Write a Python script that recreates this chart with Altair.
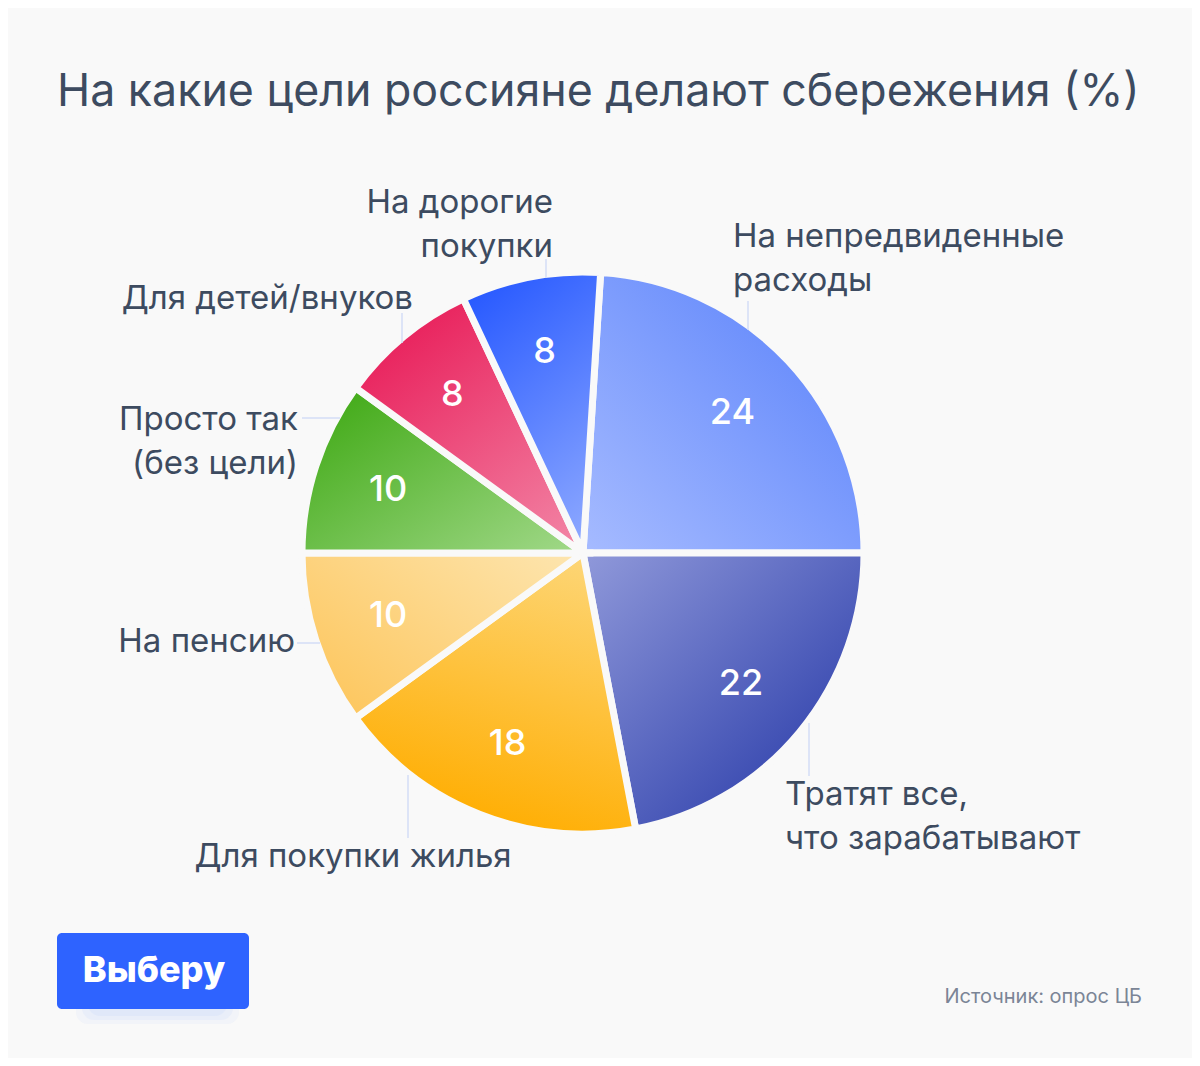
import math
import altair as alt
import pandas as pd

# ---------------- data ----------------
categories = [
    "На непредвиденные расходы",
    "Тратят все, что зарабатывают",
    "Для покупки жилья",
    "На пенсию",
    "Просто так (без цели)",
    "Для детей/внуков",
    "На дорогие покупки",
]
values = [24, 22, 18, 10, 10, 8, 8]
label_lines = [
    "На непредвиденные\nрасходы",
    "Тратят все,\nчто зарабатывают",
    "Для покупки жилья",
    "На пенсию",
    "Просто так\n(без цели)",
    "Для детей/внуков",
    "На дорогие\nпокупки",
]
title_text = "На какие цели россияне делают сбережения (%)"
source_text = "Источник: опрос ЦБ"
logo_text = "Выберу"

# ---------------- layout / style ----------------
BG = "#f9f9f9"
TXT = "#3d4b60"
FONT = "Inter"
CX, CY = 575, 545
R = 281
START = math.radians(3.6)

label_x = [725, 777, 345, 287, 290, 405, 545]
label_y = [239, 797, 859, 644, 422, 301, 205]
label_align = ["left", "left", "center", "right", "right", "right", "right"]

lead_x = [740, 801, 400, 289, 294, 394, 538]
lead_y = [293, 715, 767, 635, 410, 305, 251]
lead_x2 = [740, 801, 400, 312, 332, 394, 538]
lead_y2 = [322, 768, 830, 635, 410, 335, 270]


def grad(c0, c1, x1, y1, x2, y2):
    return alt.Gradient(
        gradient="linear",
        stops=[alt.GradientStop(offset=0, color=c0), alt.GradientStop(offset=1, color=c1)],
        x1=x1, y1=y1, x2=x2, y2=y2,
    )


grads = [
    grad("#a6bbff", "#567ffb", 0, 1, 1, 0),      # 24
    grad("#9099da", "#1f32a4", 0, 0, 1, 1),      # 22
    grad("#fdd677", "#ffad00", 0.8, 0, 0.5, 1),  # 18
    grad("#fdc55a", "#fde4ac", 0, 0.9, 1, 0.1),  # pension
    grad("#3fa914", "#a2d98a", 0, 0.1, 1, 1),    # just so
    grad("#e81a57", "#f283a4", 0.2, 0, 0.9, 1),  # kids
    grad("#2a5bff", "#8aa6ff", 0.3, 0, 0.7, 1),  # expensive
]

df = pd.DataFrame({"cat": categories, "value": values, "order": list(range(len(values)))})

theta_scale = alt.Scale(domain=[0, 100], range=[START, START + 2 * math.pi])

base = alt.Chart(df).transform_window(
    cum="sum(value)", sort=[alt.SortField("order", order="ascending")], frame=[None, 0]
).transform_calculate(
    start="datum.cum - datum.value", mid="datum.cum - datum.value / 2"
)

layers = []
for i in range(len(categories)):
    layers.append(
        base.transform_filter(alt.datum.order == i)
        .mark_arc(radius=R, fill=grads[i], stroke=BG, strokeWidth=7)
        .encode(
            theta=alt.Theta("start:Q", scale=theta_scale, stack=False),
            theta2=alt.Theta2("cum"),
            x=alt.value(CX),
            y=alt.value(CY),
        )
    )

numbers = base.mark_text(
    radius=205, fontSize=36, fontWeight=500, color="white", font=FONT, baseline="middle", align="center"
).encode(
    theta=alt.Theta("mid:Q", scale=theta_scale, stack=False),
    text=alt.Text("value:Q"),
    x=alt.value(CX),
    y=alt.value(CY),
)

lab = pd.DataFrame({
    "label": label_lines, "x": label_x, "y": label_y, "align": label_align,
    "lx": lead_x, "ly": lead_y, "lx2": lead_x2, "ly2": lead_y2,
})

leaders = alt.Chart(lab).mark_rule(color="#d3ddf6", strokeWidth=1.5).encode(
    x=alt.X("lx:Q", scale=None), y=alt.Y("ly:Q", scale=None),
    x2="lx2:Q", y2="ly2:Q",
)

label_layers = []
for a in ["left", "right", "center"]:
    label_layers.append(
        alt.Chart(lab).transform_filter(alt.datum.align == a).mark_text(
            align=a, baseline="alphabetic", fontSize=33, font=FONT, color=TXT,
            lineBreak="\n", lineHeight=44,
        ).encode(
            x=alt.X("x:Q", scale=None), y=alt.Y("y:Q", scale=None), text="label:N"
        )
    )

misc = pd.DataFrame({"t": [title_text]})
title = alt.Chart(misc).mark_text(
    align="left", baseline="alphabetic", fontSize=44.7, font=FONT, color=TXT
).encode(x=alt.value(49), y=alt.value(98), text="t:N")

src = alt.Chart(pd.DataFrame({"t": [source_text]})).mark_text(
    align="right", baseline="alphabetic", fontSize=20, font=FONT, color="#7b8596"
).encode(x=alt.value(1134), y=alt.value(995), text="t:N")

shadow_layers = []
for k, op in enumerate([0.15, 0.2, 0.25]):
    shadow_layers.append(
        alt.Chart(pd.DataFrame({"t": [logo_text]})).mark_rect(
            fill="#c9d6fb", opacity=op, cornerRadius=12
        ).encode(
            x=alt.value(68 + 6 * k), x2=alt.value(231 - 6 * k),
            y=alt.value(975), y2=alt.value(1016 - 4 * k),
        )
    )

button = alt.Chart(pd.DataFrame({"t": [logo_text]})).mark_rect(
    fill="#2e63ff", cornerRadius=5
).encode(x=alt.value(49), x2=alt.value(241), y=alt.value(925), y2=alt.value(1001))

button_text = alt.Chart(pd.DataFrame({"t": [logo_text]})).mark_text(
    align="center", baseline="alphabetic", fontSize=36, fontWeight=800, font=FONT, color="white"
).encode(x=alt.value(146), y=alt.value(974), text="t:N")

chart = alt.layer(
    *layers, numbers, leaders, *label_layers, title, src, *shadow_layers, button, button_text
).properties(
    width=1184, height=1050, padding=0, background=BG,
    autosize=alt.AutoSizeParams(type="none"),
).configure_view(strokeWidth=0)

chart.save("out.html", embed_options={"renderer": "svg", "actions": False})
